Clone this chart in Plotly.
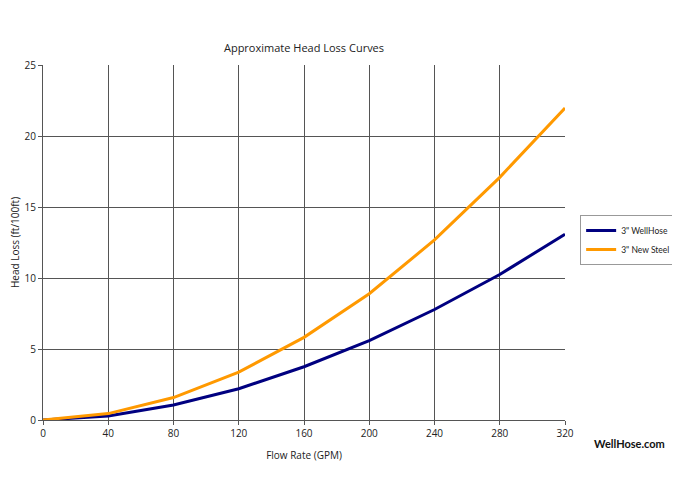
import plotly.graph_objects as go

flow = [0, 40, 80, 120, 160, 200, 240, 280, 320]
wellhose = [0, 0.28, 1.06, 2.2, 3.75, 5.59, 7.78, 10.25, 13.08]
new_steel = [0, 0.45, 1.58, 3.37, 5.82, 8.89, 12.68, 17.09, 21.97]
x_ticks = [0, 40, 80, 120, 160, 200, 240, 280, 320]
y_ticks = [0, 5, 10, 15, 20, 25]

FONT = "Open Sans"
# page body has 8px default margin; layout coordinates compensate for it
fig = go.Figure()
fig.add_trace(go.Scatter(x=flow, y=wellhose, mode="lines", name='3" WellHose',
                         line=dict(color="#000080", width=3)))
fig.add_trace(go.Scatter(x=flow, y=new_steel, mode="lines", name='3" New Steel',
                         line=dict(color="#FF9900", width=3)))

fig.update_layout(
    width=680, height=480,
    margin=dict(l=35, r=123, t=57, b=68, autoexpand=False),
    paper_bgcolor="white", plot_bgcolor="white",
    font=dict(family=FONT, size=10, color="#222"),
    title=dict(text="Approximate Head Loss Curves", x=296/680, xanchor="center",
               y=1-40/480, yanchor="middle", font=dict(size=11, family=FONT, color="#222")),
    xaxis=dict(range=[0, 320], tickvals=x_ticks, showgrid=True, gridcolor="#555", gridwidth=1,
               showline=True, linecolor="#555", linewidth=1, ticks="outside", ticklen=4,
               tickcolor="#555", zeroline=False, automargin=False,
               title=dict(text="Flow Rate (GPM)", font=dict(size=10), standoff=12)),
    yaxis=dict(range=[0, 25], tickvals=y_ticks, showgrid=True, gridcolor="#555", gridwidth=1,
               showline=True, linecolor="#555", linewidth=1, ticks="outside", ticklen=4,
               tickcolor="#555", zeroline=False, automargin=False,
               title=dict(text="Head Loss (ft/100ft)", font=dict(size=10), standoff=8)),
    legend=dict(x=1.029, y=0.507, xanchor="left", yanchor="middle",
                bordercolor="#999", borderwidth=1, font=dict(size=8.5, family="Lato"),
                itemwidth=30, tracegroupgap=0),
    showlegend=True,
)
fig.add_annotation(text="<b>WellHose.com</b>", xref="paper", yref="paper",
                   x=(621-35)/522, y=(412-436)/355, xanchor="center", yanchor="middle",
                   showarrow=False, font=dict(size=11, family="Lato", color="#111"))

fig.write_html("out.html")
